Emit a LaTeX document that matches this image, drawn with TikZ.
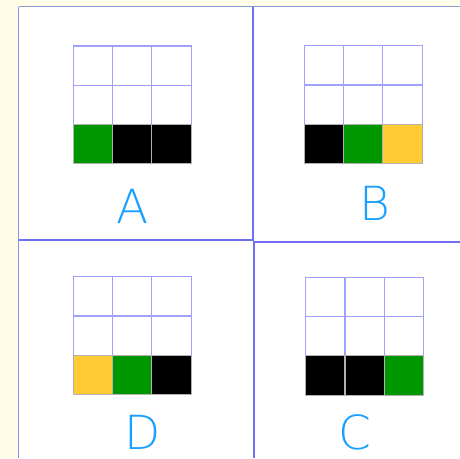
\documentclass[tikz,border=0pt]{standalone}
\usepackage{fontspec}
\newfontfamily\labelfont{DejaVu Sans ExtraLight}
\usetikzlibrary{positioning}
\definecolor{paper}{HTML}{FFFDE8}
\definecolor{frameblue}{HTML}{6F6FF2}
\definecolor{edgeblue}{HTML}{8A9AD0}
\definecolor{gridblue}{HTML}{A0A0FF}
\definecolor{cellgreen}{HTML}{009600}
\definecolor{cellyellow}{HTML}{FFCA33}
\definecolor{letterblue}{HTML}{1AA0FF}

\begin{document}
\begin{tikzpicture}[x=1pt,y=-1pt,
cell/.style={draw=gridblue,line width=1.1pt,minimum size=39.3pt,
inner sep=0pt,outer sep=0pt,fill=white},
filled/.style={draw=gray!60,line width=1.1pt,minimum size=39.3pt,
inner sep=0pt,outer sep=0pt},
tag/.style={font=\labelfont\fontsize{47}{47}\selectfont,
text=letterblue,inner sep=0pt},
frame/.style={draw=frameblue,line width=2pt}
]
\useasboundingbox (0,0) rectangle (460,458);
\fill[paper] (0,0) rectangle (460,458);
\fill[white] (18.5,6.5) rectangle (460,458);

% outer edges and dividers
\draw[edgeblue,line width=1.5pt] (18.5,6.5) -- (460,6.5);
\draw[frameblue!80,line width=1.5pt] (18.5,6.5) -- (18.5,458);
\draw[frame] (253.3,6.5) -- (253.3,240.5);
\draw[frame] (254.2,240.5) -- (254.2,458);
\draw[frame] (18.5,240.3) -- (253.5,240.3);
\draw[frame] (254,241.5) -- (460,241.5);

% the four 3x3 grids
\foreach \p/\x/\y/\ca/\cb/\cc in {A/73.3/46/cellgreen/black/black,
B/304.3/45.7/black/cellgreen/cellyellow,
D/73.3/276.7/cellyellow/cellgreen/black,
C/305.7/277.3/black/black/cellgreen}
{
\foreach \r in {0,1}
\foreach \c in {0,1,2}
\node[cell] (\p-\r-\c) at ({\x+19.65+39.3*\c},{\y+19.65+39.3*\r}) {};
\foreach \c/\col in {0/\ca,1/\cb,2/\cc}
\node[filled,fill=\col] (\p-2-\c) at ({\x+19.65+39.3*\c},{\y+19.65+78.6}) {};
}

% letters
\node[tag] (labA) at (132.7,206.7) {A};
\node[tag] (labB) at (374.5,203) {B};
\node[tag] (labD) at (142.5,432) {D};
\node[tag] (labC) at (354.7,432) {C};
\end{tikzpicture}
\end{document}
